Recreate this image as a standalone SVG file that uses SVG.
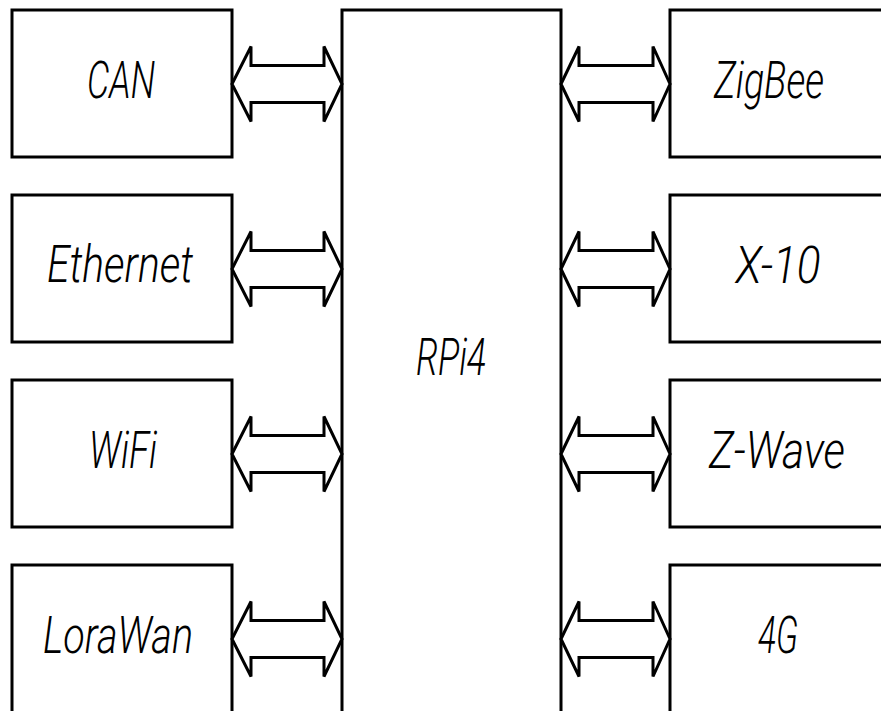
<svg xmlns="http://www.w3.org/2000/svg" width="881" height="711" viewBox="0 0 881 711">
<style>
.box{fill:#fff;stroke:#000;stroke-width:3}
.arr{fill:#fff;stroke:#000;stroke-width:3;stroke-linejoin:miter}
.t{font-family:"Roboto","DejaVu Sans",sans-serif;font-weight:300;font-style:italic;font-size:52px;fill:#000;text-anchor:middle}
</style>
<rect width="881" height="711" fill="#fff"/>
<g id="rpi4"><rect class="box" x="342" y="10" width="219" height="720"/><text class="t" x="451" y="375" textLength="70" lengthAdjust="spacingAndGlyphs">RPi4</text></g>
<g id="can"><rect class="box" x="12" y="10" width="220" height="147"/><text class="t" x="121" y="98" textLength="68" lengthAdjust="spacingAndGlyphs">CAN</text></g>
<g id="ethernet"><rect class="box" x="12" y="195" width="220" height="147"/><text class="t" x="120" y="282" textLength="146" lengthAdjust="spacingAndGlyphs">Ethernet</text></g>
<g id="wifi"><rect class="box" x="12" y="380" width="220" height="147"/><text class="t" x="123" y="468" textLength="68" lengthAdjust="spacingAndGlyphs">WiFi</text></g>
<g id="lorawan"><rect class="box" x="12" y="565" width="220" height="160"/><text class="t" x="118" y="653" textLength="150" lengthAdjust="spacingAndGlyphs">LoraWan</text></g>
<g id="zigbee"><rect class="box" x="670" y="10" width="220" height="147"/><text class="t" x="769" y="98" textLength="110" lengthAdjust="spacingAndGlyphs">ZigBee</text></g>
<g id="x10"><rect class="box" x="670" y="195" width="220" height="147"/><text class="t" x="778" y="283" textLength="85" lengthAdjust="spacingAndGlyphs">X-10</text></g>
<g id="zwave"><rect class="box" x="670" y="380" width="220" height="147"/><text class="t" x="777" y="468" textLength="136" lengthAdjust="spacingAndGlyphs">Z-Wave</text></g>
<g id="g4"><rect class="box" x="670" y="565" width="220" height="160"/><text class="t" x="778" y="653" textLength="40" lengthAdjust="spacingAndGlyphs">4G</text></g>
<g id="connectors">
<polygon class="arr" points="232,84 251,46.5 251,65.5 324,65.5 324,46.5 342,84 324,121.5 324,102.5 251,102.5 251,121.5"/>
<polygon class="arr" points="232,269 251,231.5 251,250.5 324,250.5 324,231.5 342,269 324,306.5 324,287.5 251,287.5 251,306.5"/>
<polygon class="arr" points="232,454 251,416.5 251,435.5 324,435.5 324,416.5 342,454 324,491.5 324,472.5 251,472.5 251,491.5"/>
<polygon class="arr" points="232,639 251,601.5 251,620.5 324,620.5 324,601.5 342,639 324,676.5 324,657.5 251,657.5 251,676.5"/>
<polygon class="arr" points="561,84 579,46.5 579,65.5 653,65.5 653,46.5 670,84 653,121.5 653,102.5 579,102.5 579,121.5"/>
<polygon class="arr" points="561,269 579,231.5 579,250.5 653,250.5 653,231.5 670,269 653,306.5 653,287.5 579,287.5 579,306.5"/>
<polygon class="arr" points="561,454 579,416.5 579,435.5 653,435.5 653,416.5 670,454 653,491.5 653,472.5 579,472.5 579,491.5"/>
<polygon class="arr" points="561,639 579,601.5 579,620.5 653,620.5 653,601.5 670,639 653,676.5 653,657.5 579,657.5 579,676.5"/>
</g>
</svg>
